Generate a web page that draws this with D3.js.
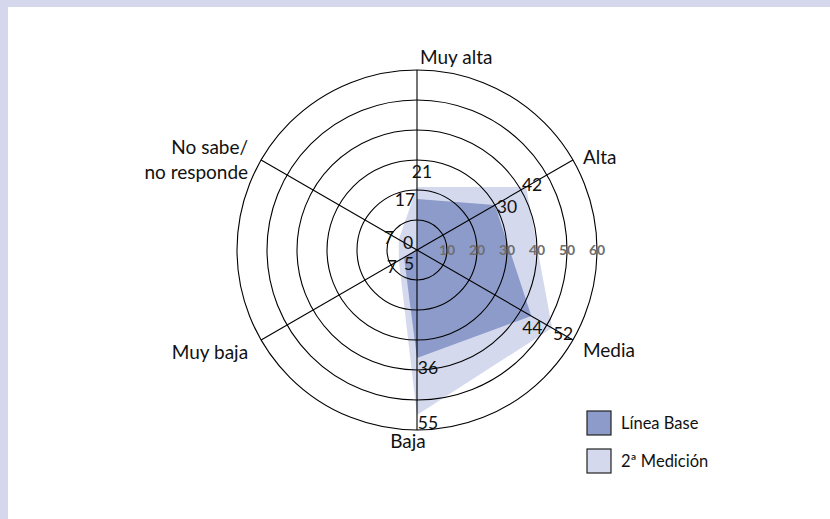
<!DOCTYPE html>
<html><head><meta charset="utf-8">
<script src="https://cdn.jsdelivr.net/npm/d3@7"></script>
<style>
html,body{margin:0;padding:0;background:#fff;}
svg{display:block;font-family:Lato,"Open Sans",sans-serif;}
</style></head>
<body>
<svg id="chart" width="830" height="519"></svg>
<script>
// ---- data ----
const categories = ["Muy alta", "Alta", "Media", "Baja", "Muy baja", "No sabe/\nno responde"];
const seriesNames = ["Línea Base", "2ª Medición"];
const lineaBase = [17, 30, 44, 36, 5, 0];
const segundaMedicion = [21, 42, 52, 55, 7, 7];
const tickValues = [10, 20, 30, 40, 50, 60];

// ---- layout ----
const W = 830, H = 519;
const cx = 417, cy = 250, R = 180;
const colors = ["#8c9bc9", "#d5d9ed"];
const svg = d3.select("#chart");

// frame bands
svg.append("rect").attr("x",0).attr("y",0).attr("width",W).attr("height",7).attr("fill","#d5d8ec");
svg.append("rect").attr("x",0).attr("y",0).attr("width",8).attr("height",H).attr("fill","#d5d8ec");

const r = d3.scaleLinear().domain([0, 60]).range([0, R]);
const ang = d3.scaleLinear().domain([0, categories.length]).range([0, 2*Math.PI]);
const g = svg.append("g").attr("transform", `translate(${cx},${cy})`);

const radial = d3.lineRadial().angle((d,i)=>ang(i)).radius(d=>r(d)).curve(d3.curveLinearClosed);

// polygons: larger first
g.append("path").datum(segundaMedicion).attr("d", radial).attr("fill", colors[1]);
g.append("path").datum(lineaBase).attr("d", radial).attr("fill", colors[0]);

// rings
g.selectAll("circle.ring").data(tickValues).enter().append("circle")
  .attr("class","ring").attr("r", d=>r(d)).attr("fill","none").attr("stroke","#000").attr("stroke-width",1.1);

// axes
const pt = (i, v) => [Math.sin(ang(i))*r(v), -Math.cos(ang(i))*r(v)];
g.selectAll("line.axis").data(categories).enter().append("line")
  .attr("x1",0).attr("y1",0)
  .attr("x2",(d,i)=>pt(i,60)[0]).attr("y2",(d,i)=>pt(i,60)[1])
  .attr("stroke","#000").attr("stroke-width",1.1);

// tick labels along the right horizontal
g.selectAll("text.tick").data(tickValues).enter().append("text")
  .attr("class","tick").attr("x", d=>r(d)).attr("y", 0).attr("dy","0.36em")
  .attr("text-anchor","middle").attr("font-size",14).attr("font-weight","bold")
  .attr("fill","#6e6e6e").text(d=>d);

// category labels
const catLayout = [
  {dx: 3, dy: -13, anchor: "start"},
  {dx: 10, dy: -3, anchor: "start"},
  {dx: 10, dy: 10, anchor: "start"},
  {dx: -9, dy: 11, anchor: "middle"},
  {dx: -13, dy: 12, anchor: "end"},
  {dx: -13, dy: -13, anchor: "end"}
];
categories.forEach((c, i) => {
  const p = pt(i, 60), L = catLayout[i];
  const lines = c.split("\n");
  const t = g.append("text").attr("text-anchor", L.anchor).attr("font-size",19).attr("fill","#111");
  lines.forEach((ln, k) => {
    t.append("tspan").attr("x", p[0]+L.dx).attr("y", p[1]+L.dy + k*25).attr("dy","0.35em").text(ln);
  });
});

// value labels (offsets from vertex, in px)
const baseOffsets = [[-12,1],[12,2],[1,12],[11,10],[5,6],[-9,-7]];
const segOffsets = [[5,-15],[6,-2],[11,6],[11,8],[-7,6],[-10,-2]];
function valueLabels(vals, offs){
  g.selectAll(null).data(vals).enter().append("text")
    .attr("x",(d,i)=>pt(i,d)[0]+offs[i][0])
    .attr("y",(d,i)=>pt(i,d)[1]+offs[i][1])
    .attr("dy","0.35em").attr("text-anchor","middle")
    .attr("font-size",17.5).attr("fill","#111").text(d=>d);
}
valueLabels(segundaMedicion, segOffsets);
valueLabels(lineaBase, baseOffsets);

// legend
const lg = svg.append("g").attr("transform","translate(587,411)");
seriesNames.forEach((s,i)=>{
  lg.append("rect").attr("x",0).attr("y",i*38).attr("width",24).attr("height",24)
    .attr("fill",colors[i]).attr("stroke","#222").attr("stroke-width",1.2);
  lg.append("text").attr("x",34).attr("y",i*38+12).attr("dy","0.35em")
    .attr("font-size",16.5).attr("fill","#111").text(s);
});
</script>
</body></html>
